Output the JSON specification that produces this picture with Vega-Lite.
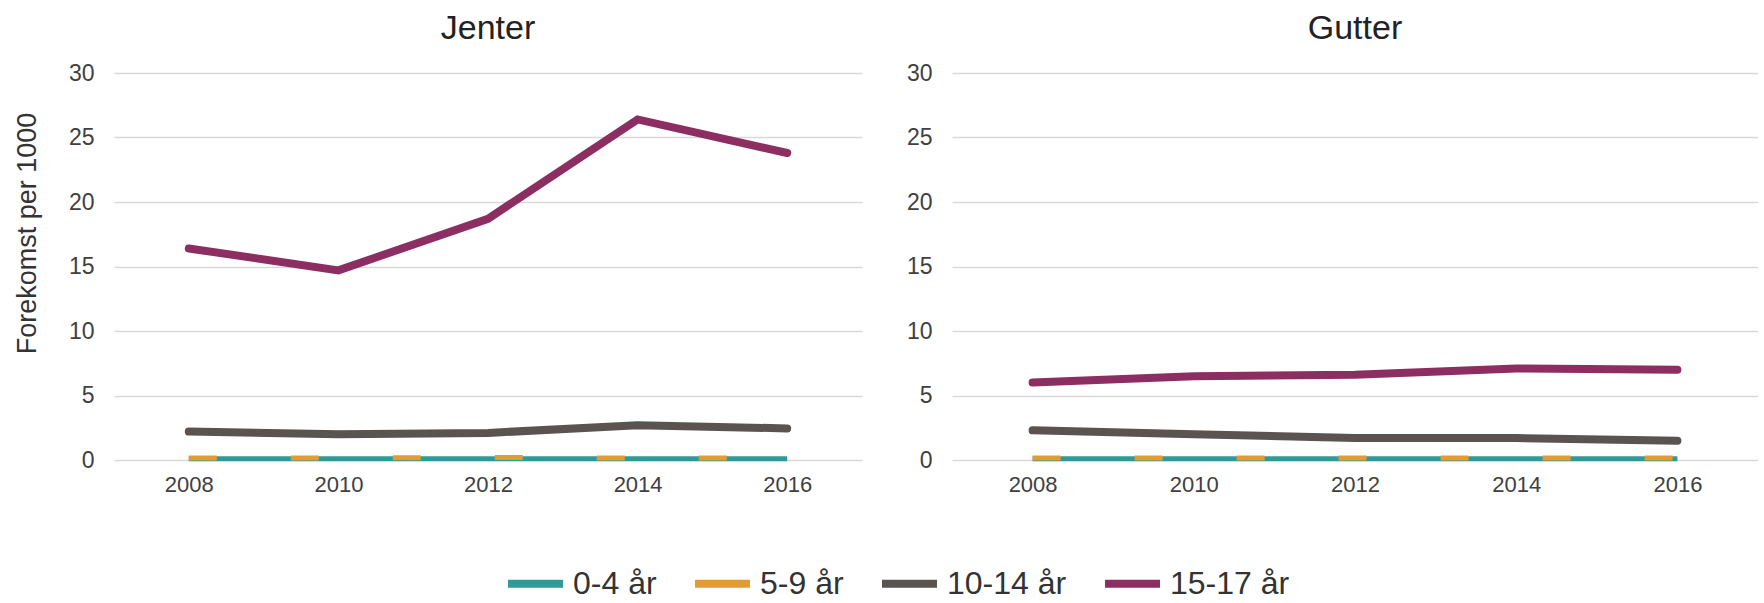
{
  "$schema": "https://vega.github.io/schema/vega-lite/v6.json",
  "padding": {"left": 13, "top": 12, "right": 0, "bottom": 0},
  "background": "white",
  "config": {
    "view": {"stroke": null},
    "font": "Liberation Sans",
    "title": {"fontSize": 34, "fontWeight": "normal", "color": "#222222", "offset": 16},
    "axis": {"domain": false, "ticks": false, "tickSize": 0, "labelColor": "#404040", "gridColor": "#d9d9d9", "gridWidth": 1.5}
  },
  "data": {"values": [
    {"kjonn": "Jenter", "gruppe": "0-4 år", "aar": 2008, "verdi": 0.1},
    {"kjonn": "Jenter", "gruppe": "0-4 år", "aar": 2010, "verdi": 0.1},
    {"kjonn": "Jenter", "gruppe": "0-4 år", "aar": 2012, "verdi": 0.1},
    {"kjonn": "Jenter", "gruppe": "0-4 år", "aar": 2014, "verdi": 0.1},
    {"kjonn": "Jenter", "gruppe": "0-4 år", "aar": 2016, "verdi": 0.1},
    {"kjonn": "Jenter", "gruppe": "5-9 år", "aar": 2008, "verdi": 0.15},
    {"kjonn": "Jenter", "gruppe": "5-9 år", "aar": 2010, "verdi": 0.15},
    {"kjonn": "Jenter", "gruppe": "5-9 år", "aar": 2012, "verdi": 0.2},
    {"kjonn": "Jenter", "gruppe": "5-9 år", "aar": 2014, "verdi": 0.15},
    {"kjonn": "Jenter", "gruppe": "5-9 år", "aar": 2016, "verdi": 0.15},
    {"kjonn": "Jenter", "gruppe": "10-14 år", "aar": 2008, "verdi": 2.2},
    {"kjonn": "Jenter", "gruppe": "10-14 år", "aar": 2010, "verdi": 2.0},
    {"kjonn": "Jenter", "gruppe": "10-14 år", "aar": 2012, "verdi": 2.1},
    {"kjonn": "Jenter", "gruppe": "10-14 år", "aar": 2014, "verdi": 2.7},
    {"kjonn": "Jenter", "gruppe": "10-14 år", "aar": 2016, "verdi": 2.45},
    {"kjonn": "Jenter", "gruppe": "15-17 år", "aar": 2008, "verdi": 16.4},
    {"kjonn": "Jenter", "gruppe": "15-17 år", "aar": 2010, "verdi": 14.7},
    {"kjonn": "Jenter", "gruppe": "15-17 år", "aar": 2012, "verdi": 18.7},
    {"kjonn": "Jenter", "gruppe": "15-17 år", "aar": 2014, "verdi": 26.4},
    {"kjonn": "Jenter", "gruppe": "15-17 år", "aar": 2016, "verdi": 23.8},
    {"kjonn": "Gutter", "gruppe": "0-4 år", "aar": 2008, "verdi": 0.1},
    {"kjonn": "Gutter", "gruppe": "0-4 år", "aar": 2010, "verdi": 0.1},
    {"kjonn": "Gutter", "gruppe": "0-4 år", "aar": 2012, "verdi": 0.1},
    {"kjonn": "Gutter", "gruppe": "0-4 år", "aar": 2014, "verdi": 0.1},
    {"kjonn": "Gutter", "gruppe": "0-4 år", "aar": 2016, "verdi": 0.1},
    {"kjonn": "Gutter", "gruppe": "5-9 år", "aar": 2008, "verdi": 0.15},
    {"kjonn": "Gutter", "gruppe": "5-9 år", "aar": 2010, "verdi": 0.15},
    {"kjonn": "Gutter", "gruppe": "5-9 år", "aar": 2012, "verdi": 0.15},
    {"kjonn": "Gutter", "gruppe": "5-9 år", "aar": 2014, "verdi": 0.15},
    {"kjonn": "Gutter", "gruppe": "5-9 år", "aar": 2016, "verdi": 0.15},
    {"kjonn": "Gutter", "gruppe": "10-14 år", "aar": 2008, "verdi": 2.3},
    {"kjonn": "Gutter", "gruppe": "10-14 år", "aar": 2010, "verdi": 2.0},
    {"kjonn": "Gutter", "gruppe": "10-14 år", "aar": 2012, "verdi": 1.7},
    {"kjonn": "Gutter", "gruppe": "10-14 år", "aar": 2014, "verdi": 1.7},
    {"kjonn": "Gutter", "gruppe": "10-14 år", "aar": 2016, "verdi": 1.5},
    {"kjonn": "Gutter", "gruppe": "15-17 år", "aar": 2008, "verdi": 6.0},
    {"kjonn": "Gutter", "gruppe": "15-17 år", "aar": 2010, "verdi": 6.5},
    {"kjonn": "Gutter", "gruppe": "15-17 år", "aar": 2012, "verdi": 6.6},
    {"kjonn": "Gutter", "gruppe": "15-17 år", "aar": 2014, "verdi": 7.1},
    {"kjonn": "Gutter", "gruppe": "15-17 år", "aar": 2016, "verdi": 7.0}
  ]},
  "spacing": 44,
  "hconcat": [
    {
      "title": {"text": "Jenter"},
      "width": 748,
      "height": 387,
      "transform": [{"filter": "datum.kjonn === 'Jenter'"}],
      "encoding": {
        "x": {"field": "aar", "type": "ordinal", "scale": {"type": "point", "padding": 0.5},
              "axis": {"title": null, "labelAngle": 0, "labelFontSize": 22, "labelPadding": 14}},
        "y": {"field": "verdi", "type": "quantitative", "scale": {"domain": [0, 30], "nice": false},
              "axis": {"title": "Forekomst per 1000", "titleFontSize": 27, "titleFontWeight": "normal", "titleColor": "#333333",
                       "titlePadding": 27, "titleY": 160, "values": [0, 5, 10, 15, 20, 25, 30], "labelFontSize": 23, "labelPadding": 20}}
      },
      "layer": [
        {
          "transform": [{"filter": "datum.gruppe === '10-14 år' || datum.gruppe === '15-17 år'"}],
          "mark": {"type": "line", "strokeWidth": 8, "strokeCap": "round"},
          "encoding": {
            "color": {"field": "gruppe", "type": "nominal",
                      "scale": {"domain": ["0-4 år", "5-9 år", "10-14 år", "15-17 år"], "range": ["#2e9b99", "#e39c35", "#5a5350", "#8c2e61"]},
                      "legend": {"orient": "none", "legendX": 390, "legendY": 479, "direction": "horizontal", "columns": 4, "title": null,
                                 "symbolType": "stroke", "symbolSize": 3025, "symbolStrokeWidth": 8, "labelFontSize": 32, "labelColor": "#333333",
                                 "labelOffset": 6, "columnPadding": 22, "labelLimit": 300}}
          }
        },
        {
          "transform": [{"filter": "datum.gruppe === '0-4 år'"}],
          "mark": {"type": "line", "strokeWidth": 5, "color": "#2e9b99"},
          "encoding": {}
        },
        {
          "transform": [{"filter": "datum.gruppe === '5-9 år'"}],
          "mark": {"type": "line", "strokeWidth": 5, "color": "#e39c35", "strokeDash": [28, 74]},
          "encoding": {}
        }
      ]
    },
    {
      "title": {"text": "Gutter"},
      "width": 806,
      "height": 387,
      "transform": [{"filter": "datum.kjonn === 'Gutter'"}],
      "encoding": {
        "x": {"field": "aar", "type": "ordinal", "scale": {"type": "point", "padding": 0.5},
              "axis": {"title": null, "labelAngle": 0, "labelFontSize": 22, "labelPadding": 14}},
        "y": {"field": "verdi", "type": "quantitative", "scale": {"domain": [0, 30], "nice": false},
              "axis": {"title": null, "values": [0, 5, 10, 15, 20, 25, 30], "labelFontSize": 23, "labelPadding": 20}}
      },
      "layer": [
        {
          "transform": [{"filter": "datum.gruppe === '10-14 år' || datum.gruppe === '15-17 år'"}],
          "mark": {"type": "line", "strokeWidth": 8, "strokeCap": "round"},
          "encoding": {
            "color": {"field": "gruppe", "type": "nominal",
                      "scale": {"domain": ["0-4 år", "5-9 år", "10-14 år", "15-17 år"], "range": ["#2e9b99", "#e39c35", "#5a5350", "#8c2e61"]}}
          }
        },
        {
          "transform": [{"filter": "datum.gruppe === '0-4 år'"}],
          "mark": {"type": "line", "strokeWidth": 5, "color": "#2e9b99"},
          "encoding": {}
        },
        {
          "transform": [{"filter": "datum.gruppe === '5-9 år'"}],
          "mark": {"type": "line", "strokeWidth": 5, "color": "#e39c35", "strokeDash": [28, 74]},
          "encoding": {}
        }
      ]
    }
  ]
}
